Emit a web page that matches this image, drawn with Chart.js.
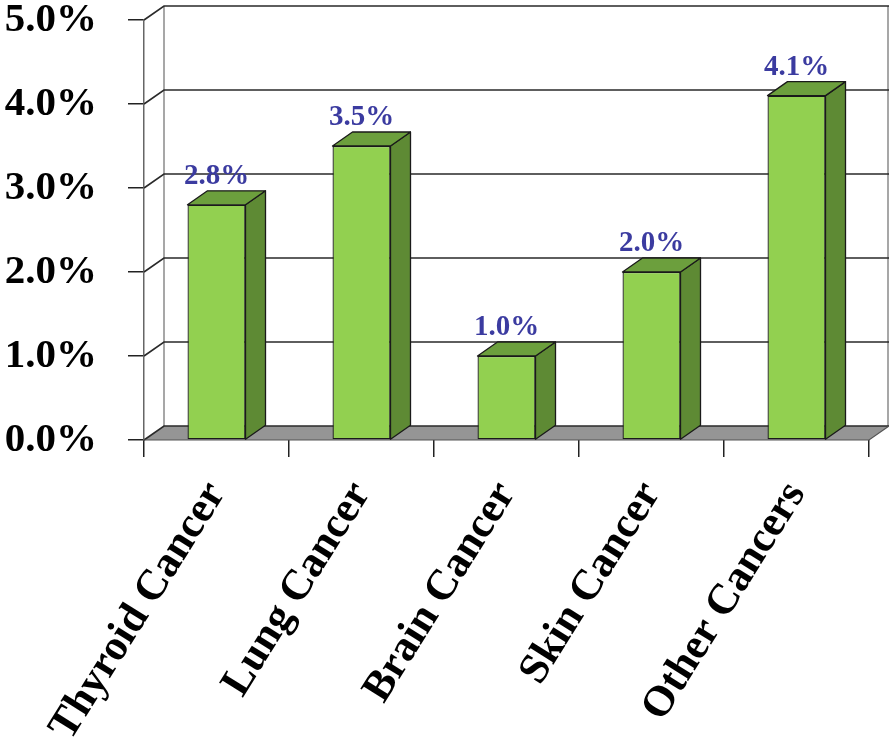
<!DOCTYPE html>
<html>
<head>
<meta charset="utf-8">
<script src="https://cdn.jsdelivr.net/npm/chart.js@4/dist/chart.umd.min.js"></script>
<style>
  html, body { margin: 0; padding: 0; background: #fff; }
</style>
</head>
<body>
<canvas id="barchart" width="889" height="754"></canvas>
<script>
const categories = ["Thyroid Cancer", "Lung Cancer", "Brain Cancer", "Skin Cancer", "Other Cancers"];
const percentValues = [2.8, 3.5, 1.0, 2.0, 4.1];
const yTicks = [0, 1, 2, 3, 4, 5];

const DEPTH_X = 20;
const DEPTH_Y = 14;
const serif = "'Liberation Serif', 'Times New Roman', serif";

// back wall, gridlines and floor, drawn before the bars
const wallPlugin = {
  id: "wall3d",
  beforeDatasetsDraw(chart) {
    const { ctx, chartArea } = chart;
    const y = chart.scales.y;
    const L = chartArea.left, R = chartArea.right, B = chartArea.bottom, T = chartArea.top;
    ctx.save();

    // floor
    ctx.beginPath();
    ctx.moveTo(L, B);
    ctx.lineTo(R, B);
    ctx.lineTo(R + DEPTH_X, B - DEPTH_Y);
    ctx.lineTo(L + DEPTH_X, B - DEPTH_Y);
    ctx.closePath();
    ctx.fillStyle = "#959595";
    ctx.fill();

    // back wall verticals
    ctx.strokeStyle = "#8a8a8a";
    ctx.lineWidth = 1.5;
    ctx.beginPath();
    ctx.moveTo(L + DEPTH_X, T - DEPTH_Y);
    ctx.lineTo(L + DEPTH_X, B - DEPTH_Y);
    ctx.moveTo(R + DEPTH_X - 1, T - DEPTH_Y);
    ctx.lineTo(R + DEPTH_X - 1, B - DEPTH_Y);
    ctx.stroke();

    // gridlines on the back wall + diagonals on the side
    ctx.strokeStyle = "#2a2a2a";
    ctx.lineWidth = 1.6;
    yTicks.forEach((v) => {
      const py = y.getPixelForValue(v);
      ctx.beginPath();
      ctx.moveTo(L, py);
      ctx.lineTo(L + DEPTH_X, py - DEPTH_Y);
      ctx.lineTo(R + DEPTH_X, py - DEPTH_Y);
      ctx.stroke();
    });

    // floor front edge and right edge
    ctx.strokeStyle = "#555";
    ctx.lineWidth = 1.2;
    ctx.beginPath();
    ctx.moveTo(L, B);
    ctx.lineTo(R, B);
    ctx.lineTo(R + DEPTH_X, B - DEPTH_Y);
    ctx.stroke();
    ctx.restore();
  },
  afterDatasetsDraw(chart) {
    const { ctx } = chart;
    const meta = chart.getDatasetMeta(0);
    ctx.save();
    ctx.lineWidth = 1.3;
    ctx.strokeStyle = "#1a1a1a";
    ctx.lineJoin = "round";
    meta.data.forEach((bar, i) => {
      const w = bar.width;
      const left = bar.x - w / 2;
      const right = bar.x + w / 2;
      const top = bar.y;
      const base = bar.base;

      // side face
      ctx.beginPath();
      ctx.moveTo(right, top);
      ctx.lineTo(right + DEPTH_X, top - DEPTH_Y);
      ctx.lineTo(right + DEPTH_X, base - DEPTH_Y);
      ctx.lineTo(right, base);
      ctx.closePath();
      ctx.fillStyle = "#5e8a34";
      ctx.fill();
      ctx.stroke();

      // top face
      ctx.beginPath();
      ctx.moveTo(left, top);
      ctx.lineTo(left + DEPTH_X, top - DEPTH_Y);
      ctx.lineTo(right + DEPTH_X, top - DEPTH_Y);
      ctx.lineTo(right, top);
      ctx.closePath();
      ctx.fillStyle = "#6c9f3d";
      ctx.fill();
      ctx.stroke();

      // value label
      ctx.fillStyle = "#3b3ba0";
      ctx.font = "bold 29px " + serif;
      ctx.textAlign = "center";
      ctx.textBaseline = "alphabetic";
      ctx.fillText(percentValues[i].toFixed(1) + "%", bar.x, top - DEPTH_Y - 7);
    });
    ctx.restore();
  },
};

const ctx = document.getElementById("barchart").getContext("2d");

const barChart = new Chart(ctx, {
  type: "bar",
  data: {
    labels: categories,
    datasets: [
      {
        data: percentValues,
        backgroundColor: "#92d050",
        borderColor: "#1a1a1a",
        borderWidth: 1.3,
        borderSkipped: false,
        barPercentage: 0.4,
        categoryPercentage: 1.0,
      },
    ],
  },
  options: {
    responsive: false,
    animation: false,
    layout: { padding: { top: 20, right: 20, left: 0, bottom: 0 } },
    plugins: {
      legend: { display: false },
      tooltip: { enabled: false },
    },
    scales: {
      x: {
        grid: {
          offset: true,
          drawOnChartArea: false,
          drawTicks: true,
          tickLength: 17,
          color: "#222",
          lineWidth: 1.5,
        },
        border: { display: false },
        ticks: {
          autoSkip: false,
          minRotation: 58,
          maxRotation: 58,
          padding: 16,
          color: "#000",
          font: { family: serif, size: 43, weight: "bold" },
        },
        afterFit(scale) {
          scale.height = 314;
          scale.paddingLeft = 0;
          scale.paddingRight = 0;
        },
      },
      y: {
        min: 0,
        max: 5,
        ticks: {
          stepSize: 1,
          padding: 31,
          color: "#000",
          font: { family: serif, size: 41, weight: "bold" },
          callback: (v) => v.toFixed(1) + "%",
        },
        grid: {
          drawOnChartArea: false,
          drawTicks: true,
          tickLength: 16,
          color: "#222",
          lineWidth: 1.5,
        },
        border: { display: true, color: "#666", width: 1.5 },
        afterFit(scale) {
          scale.width = 144;
          scale.paddingTop = 0;
          scale.paddingBottom = 0;
        },
      },
    },
  },
  plugins: [wallPlugin],
});
</script>
</body>
</html>
